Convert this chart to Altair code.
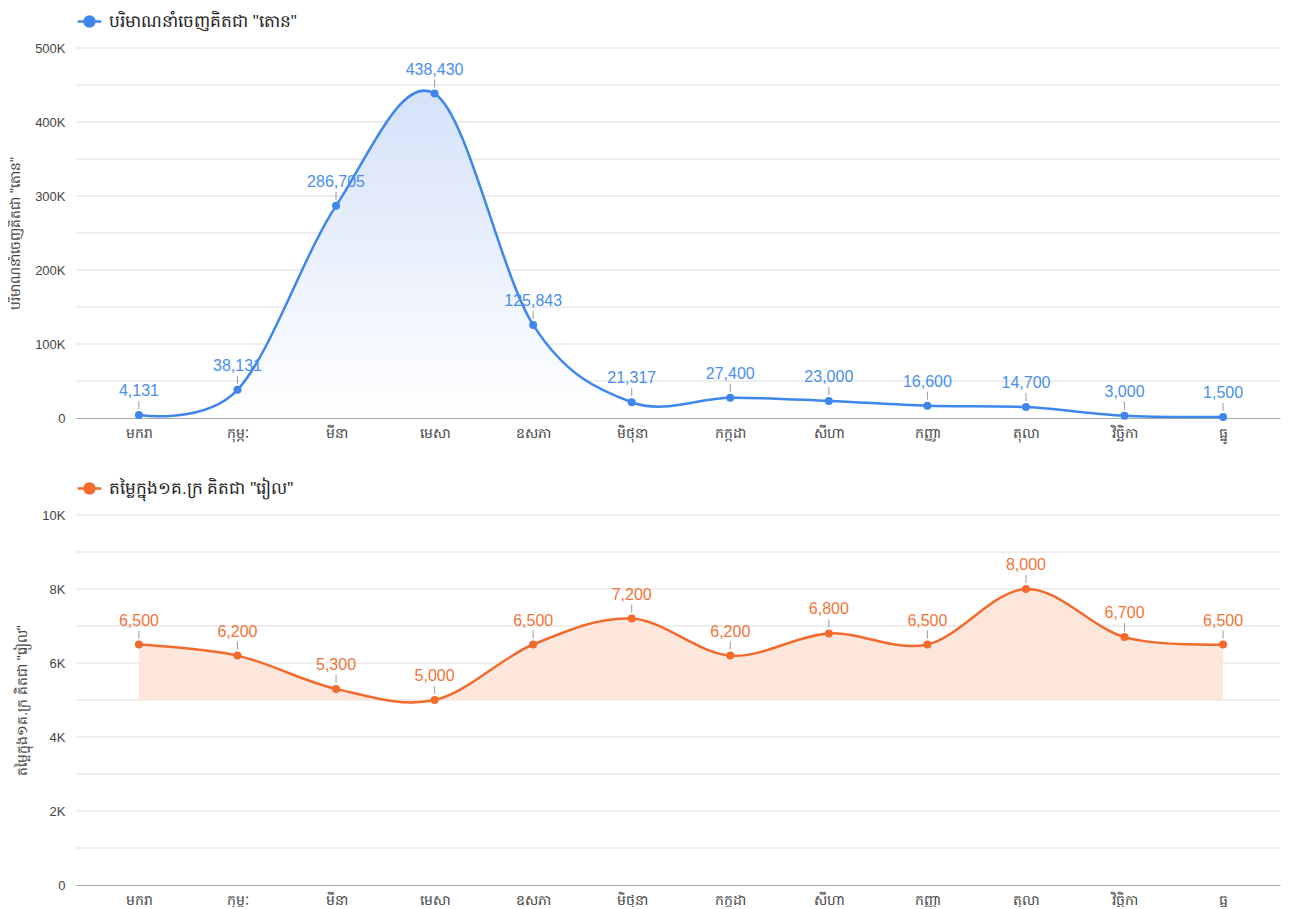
import altair as alt
import pandas as pd

months = ["មករា", "កុម្ភៈ", "មីនា", "មេសា", "ឧសភា", "មិថុនា",
          "កក្កដា", "សីហា", "កញ្ញា", "តុលា", "វិច្ឆិកា", "ធ្នូ"]
export_tons = [4131, 38131, 286705, 438430, 125843, 21317,
               27400, 23000, 16600, 14700, 3000, 1500]
price_riel = [6500, 6200, 5300, 5000, 6500, 7200,
              6200, 6800, 6500, 8000, 6700, 6500]
title_top = 'បរិមាណនាំចេញគិតជា "តោន"'
title_bot = 'តម្លៃក្នុង១គ.ក្រ គិតជា "រៀល"'

top_grid = [50000, 100000, 150000, 200000, 250000, 300000, 350000, 400000, 450000, 500000]
top_labels = [0, 100000, 200000, 300000, 400000, 500000]
bot_grid = [1000, 2000, 3000, 4000, 5000, 6000, 7000, 8000, 9000, 10000]
bot_labels = [0, 2000, 4000, 6000, 8000, 10000]

BLUE = "#3f86ec"
BLUE_TXT = "#4a8ef0"
ORANGE = "#f26b2c"
ORANGE_TXT = "#f0743a"

SYMBOL = "M-1,0H1M-0.42,0a0.42,0.42 0 1,0 0.84,0a0.42,0.42 0 1,0 -0.84,0"


def panel(values, series, color, txtcolor, fill, grid_vals, label_vals, ymax, base):
    df = pd.DataFrame({"month": months, "value": values,
                       "series": [series] * len(months), "base": [base] * len(months)})
    gdf = pd.DataFrame({"g": grid_vals})
    x = alt.X("month:N", sort=months,
              scale=alt.Scale(type="point", padding=0.608, align=0.525),
              axis=alt.Axis(title=None, ticks=False, labelFontSize=14, labelColor="#444",
                            domainColor="#aaaaaa", labelPadding=8, grid=False, labelAngle=0))
    y = alt.Y("value:Q", scale=alt.Scale(domain=[0, ymax], nice=False, zero=True),
              axis=alt.Axis(title=series, values=label_vals, ticks=False, domain=False,
                            grid=False, labelFontSize=13, labelColor="#444",
                            labelPadding=11, titleFontSize=14, titleColor="#444",
                            titleFontWeight="normal", titlePadding=12,
                            labelExpr="datum.value == 0 ? '0' : (datum.value/1000) + 'K'"))
    grid = alt.Chart(gdf).mark_rule(color="#dcdcdc", strokeWidth=1).encode(
        y=alt.Y("g:Q", scale=alt.Scale(domain=[0, ymax], nice=False)))
    base_chart = alt.Chart(df).encode(x=x)
    area = base_chart.mark_area(interpolate="cardinal", color=fill).encode(
        y=y, y2=alt.Y2("base:Q"))
    line = base_chart.mark_line(interpolate="cardinal", strokeWidth=2.5).encode(
        y="value:Q",
        color=alt.Color("series:N",
                        scale=alt.Scale(domain=[series], range=[color]),
                        legend=alt.Legend(title=None, orient="none", legendX=0, legendY=-40,
                                          symbolType=SYMBOL, symbolSize=560,
                                          symbolStrokeWidth=2.5, symbolFillColor=color,
                                          labelFontSize=17, labelColor="#222",
                                          labelLimit=600, labelOffset=6)))
    pts = base_chart.mark_circle(size=64, color=color, opacity=1).encode(y="value:Q")
    ticks = base_chart.mark_rule(color="#9a9a9a", strokeWidth=1, yOffset=-6, y2Offset=-14).encode(
        y="value:Q", y2="value:Q")
    labels = base_chart.mark_text(dy=-24, fontSize=16, color=txtcolor).encode(
        y="value:Q", text=alt.Text("value:Q", format=","))
    return alt.layer(grid, area, line, ticks, pts, labels).properties(width=1204, height=370)


top_fill = alt.Gradient(gradient="linear",
                        stops=[alt.GradientStop(color="#d5e2f9", offset=0),
                               alt.GradientStop(color="#ffffff", offset=1)],
                        x1=0, x2=0, y1=0, y2=1)

top = panel(export_tons, title_top, BLUE, BLUE_TXT, top_fill, top_grid, top_labels, 500000, 0)
bot = panel(price_riel, title_bot, ORANGE, ORANGE_TXT, "#fde7dd", bot_grid, bot_labels, 10000, 5000)

chart = alt.vconcat(top, bot, spacing=35).resolve_scale(
    color="independent", y="independent", x="independent").resolve_legend(
    color="independent").configure(font="Liberation Sans", padding=0).configure_view(stroke=None)

chart.save("out.html", embed_options={"renderer": "svg", "actions": False})
